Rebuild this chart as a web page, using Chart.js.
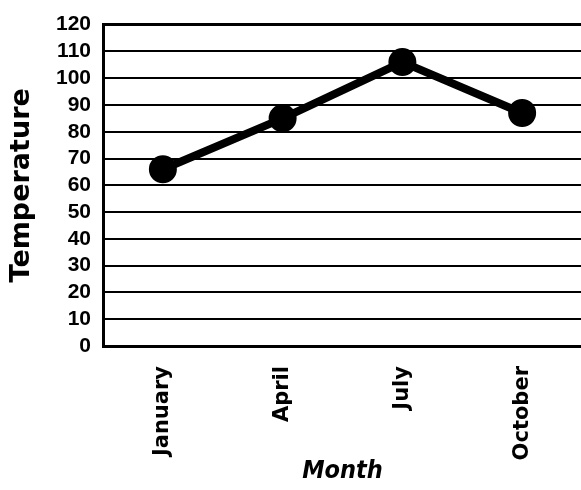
<!DOCTYPE html>
<html>
<head>
<meta charset="utf-8">
<script src="https://cdn.jsdelivr.net/npm/chart.js@4"></script>
<style>
  html, body { margin: 0; padding: 0; background: #fff; overflow: hidden; }
  #wrap { width: 581px; height: 490px; overflow: hidden; }
</style>
</head>
<body>
<div id="wrap"><canvas id="chart" width="600" height="490"></canvas></div>
<script>
const months = ['January', 'April', 'July', 'October'];
const temps = [66, 85, 106, 87];
const yTicks = [0, 10, 20, 30, 40, 50, 60, 70, 80, 90, 100, 110, 120];

const ctx = document.getElementById('chart').getContext('2d');

new Chart(ctx, {
    type: 'line',
    data: {
        labels: months,
        datasets: [
            {
                data: temps,
                borderColor: '#000',
                backgroundColor: '#000',
                borderWidth: 8,
                pointRadius: 10,
                pointHoverRadius: 10,
                tension: 0,
                fill: false
            }
        ]
    },
    options: {
        responsive: false,
        animation: false,
        layout: { padding: { top: 18, right: 4, left: 0, bottom: 0 } },
        plugins: { legend: { display: false }, tooltip: { enabled: false } },
        scales: {
            x: {
                offset: true,
                grid: { display: false },
                border: { display: true, color: '#000', width: 3 },
                ticks: {
                    color: '#000',
                    font: { family: 'DejaVu Sans', size: 21, weight: '600' },
                    minRotation: 90,
                    maxRotation: 90,
                    padding: 12
                },
                title: {
                    display: true,
                    text: 'Month',
                    color: '#000',
                    font: { family: 'DejaVu Sans Condensed', size: 25, weight: 'bold', style: 'italic' },
                    padding: { top: 0, bottom: 4 }
                },
                afterFit: (scale) => { scale.height = 144; }
            },
            y: {
                min: 0,
                max: 120,
                afterBuildTicks: (scale) => { scale.ticks = yTicks.map(v => ({ value: v })); },
                grid: {
                    color: '#000',
                    lineWidth: (c) => (c.tick && c.tick.value === 120 ? 3 : 2),
                    drawTicks: false
                },
                border: { display: true, color: '#000', width: 3 },
                ticks: {
                    color: '#000',
                    autoSkip: false,
                    font: { family: 'Liberation Sans', size: 21, weight: 'bold' },
                    padding: 12
                },
                title: {
                    display: true,
                    text: 'Temperature',
                    color: '#000',
                    font: { family: 'DejaVu Sans', size: 27, weight: 'bold' },
                    padding: { top: 6, bottom: 4 }
                },
                afterFit: (scale) => { scale.width = 103; }
            }
        }
    }
});
</script>
</body>
</html>
